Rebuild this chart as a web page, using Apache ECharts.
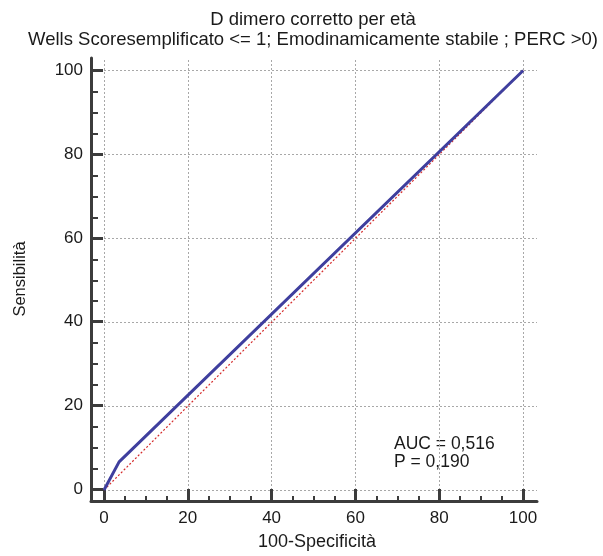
<!DOCTYPE html>
<html>
<head>
<meta charset="utf-8">
<style>
  html, body { margin: 0; padding: 0; background: #ffffff; }
  #chart { width: 603px; height: 556px; }
</style>
<script src="https://cdn.jsdelivr.net/npm/echarts@6/dist/echarts.min.js"></script>
</head>
<body>
<div id="chart"></div>
<script>
// ROC curve: D dimero corretto per età
const titleLines = ['D dimero corretto per età', 'Wells Scoresemplificato <= 1; Emodinamicamente stabile ; PERC >0)'];
const xName = '100-Specificità';
const yName = 'Sensibilità';
const rocX = [0, 3.6, 100];
const rocY = [0, 6.7, 100];
const refX = [0, 100];
const refY = [0, 100];
const statLines = ['AUC = 0,516', 'P = 0,190'];
const majorTicks = [0, 20, 40, 60, 80, 100];
const minorTicks = [5, 10, 15, 25, 30, 35, 45, 50, 55, 65, 70, 75, 85, 90, 95];

const FONT = '"Liberation Sans", Arial, sans-serif';
const TEXT = '#1a1a1a';
const AXIS = '#3c3c3c';

// Axis frame extends a little past 0..100 on every side
const X_FRAME = [-3.1, 103.34];
const Y_FRAME = [-2.62, 102.98];

const chart = echarts.init(document.getElementById('chart'), null, { renderer: 'canvas' });

const pairs = (xs, ys) => xs.map((x, i) => [x, ys[i]]);
const hidden = { show: false };
const frameRect = { left: 91, right: 66, top: 58, bottom: 55 };

function textBlock(lines, x, ys, size, align) {
  return lines.map((t, i) => ({
    type: 'text',
    x: x,
    y: ys[i],
    silent: true,
    style: {
      text: t,
      fill: TEXT,
      font: size + 'px ' + FONT,
      align: align,
      verticalAlign: 'middle'
    }
  }));
}

chart.setOption({
  animation: false,
  backgroundColor: '#ffffff',
  textStyle: { fontFamily: FONT },
  graphic: [].concat(
    textBlock(titleLines, 313, [20, 40], 18.5, 'center'),
    textBlock(statLines, 394, [444, 462.5], 17.5, 'left')
  ),
  grid: [
    // plotting box: data and dotted grid, starting at 0
    { left: 104, right: 66, top: 60, bottom: 66 },
    // axis lines and minor ticks
    Object.assign({}, frameRect),
    // major ticks, labels and axis names
    Object.assign({}, frameRect)
  ],
  xAxis: [
    {
      gridIndex: 0, type: 'value', min: 0, max: 103.3, interval: 20,
      axisLine: hidden, axisTick: hidden, axisLabel: hidden,
      splitLine: { show: true, showMaxLine: false, lineStyle: { color: '#a8a8a8', type: [2, 2], width: 1 } }
    },
    {
      gridIndex: 1, type: 'value', min: X_FRAME[0], max: X_FRAME[1],
      axisLine: { show: true, onZero: false, lineStyle: { color: AXIS, width: 3 } },
      axisTick: { show: true, inside: true, length: 5, customValues: minorTicks, lineStyle: { color: AXIS, width: 2 } },
      axisLabel: hidden, splitLine: hidden
    },
    {
      gridIndex: 2, type: 'value', min: X_FRAME[0], max: X_FRAME[1],
      name: xName, nameLocation: 'middle', nameGap: 33,
      nameTextStyle: { fontFamily: FONT, fontSize: 18, color: TEXT, padding: [0, 0, 0, 6] },
      axisLine: { show: false, onZero: false },
      axisTick: { show: true, inside: true, length: 11, customValues: majorTicks, lineStyle: { color: AXIS, width: 3 } },
      axisLabel: { show: true, margin: 10, customValues: majorTicks, fontFamily: FONT, fontSize: 17, color: TEXT },
      splitLine: hidden
    }
  ],
  yAxis: [
    {
      gridIndex: 0, type: 'value', min: 0, max: 102.5, interval: 20,
      axisLine: hidden, axisTick: hidden, axisLabel: hidden,
      splitLine: { show: true, showMaxLine: false, lineStyle: { color: '#a8a8a8', type: [2, 2], width: 1 } }
    },
    {
      gridIndex: 1, type: 'value', min: Y_FRAME[0], max: Y_FRAME[1],
      axisLine: { show: true, onZero: false, lineStyle: { color: AXIS, width: 3 } },
      axisTick: { show: true, inside: true, length: 7, customValues: minorTicks, lineStyle: { color: AXIS, width: 2 } },
      axisLabel: hidden, splitLine: hidden
    },
    {
      gridIndex: 2, type: 'value', min: Y_FRAME[0], max: Y_FRAME[1],
      name: yName, nameLocation: 'middle', nameGap: 62, nameRotate: 90,
      nameTextStyle: { fontFamily: FONT, fontSize: 16.5, color: TEXT },
      axisLine: { show: false, onZero: false },
      axisTick: { show: true, inside: true, length: 12, customValues: majorTicks, lineStyle: { color: AXIS, width: 3 } },
      axisLabel: { show: true, margin: 8, customValues: majorTicks, fontFamily: FONT, fontSize: 17, color: TEXT },
      splitLine: hidden
    }
  ],
  series: [
    {
      name: 'reference',
      type: 'line',
      xAxisIndex: 0, yAxisIndex: 0,
      data: pairs(refX, refY),
      showSymbol: false,
      lineStyle: { color: '#d42a2a', width: 1.2, type: [2, 2] },
      z: 3
    },
    {
      name: 'ROC',
      type: 'line',
      xAxisIndex: 0, yAxisIndex: 0,
      data: pairs(rocX, rocY),
      showSymbol: false,
      lineStyle: { color: '#3f3f9e', width: 3 },
      z: 4
    }
  ]
});
</script>
</body>
</html>
